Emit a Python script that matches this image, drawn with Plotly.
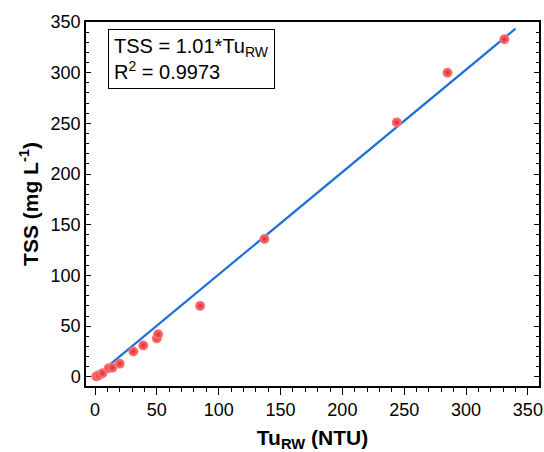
import plotly.graph_objects as go

# Data
tu_rw = [1, 3, 6, 11, 14, 20, 31, 39, 50, 51, 85, 137, 244, 285, 331]
tss = [0.5, 1.5, 3.5, 8.5, 9, 13, 25, 31, 38, 42, 70, 136, 251, 300, 333]
slope = 1.01
fit_x = [0, 340]
fit_y = [slope * v for v in fit_x]

FONT = "Liberation Sans, Arial, sans-serif"

fig = go.Figure()
fig.add_trace(go.Scatter(
    x=fit_x, y=fit_y, mode="lines",
    line=dict(color="#1f6fd8", width=2.2),
    showlegend=False, hoverinfo="skip"))
fig.add_trace(go.Scatter(
    x=tu_rw, y=tss, mode="markers",
    marker=dict(size=10, color="#f88080",
                gradient=dict(type="radial", color="#e3262b"),
                line=dict(width=0)),
    showlegend=False))

fig.add_annotation(
    xref="paper", yref="paper", x=0.048, y=0.981, xanchor="left", yanchor="top",
    text="TSS = 1.01*Tu<sub>RW</sub><br>R<sup>2</sup> = 0.9973",
    showarrow=False, align="left",
    font=dict(family=FONT, size=20, color="black"),
    bordercolor="black", borderwidth=1, borderpad=5, bgcolor="white")

fig.update_layout(
    width=544, height=452,
    margin=dict(l=86, r=5, t=22, b=66, autoexpand=False),
    paper_bgcolor="white", plot_bgcolor="white",
    font=dict(family=FONT, size=18, color="black"),
)
fig.update_xaxes(
    range=[-7.3, 359], tickmode="linear", tick0=0, dtick=50,
    ticks="outside", ticklen=7, tickwidth=1.2, tickcolor="black",
    minor=dict(ticks="outside", ticklen=4, dtick=10, tick0=0, tickcolor="black", tickwidth=1),
    showline=True, linecolor="black", linewidth=1.5, mirror=True,
    showgrid=False, zeroline=False, automargin=False,
    tickfont=dict(size=18, family=FONT),
    title=dict(text="<b>Tu<sub>RW</sub> (NTU)</b>", font=dict(size=21, family=FONT), standoff=15),
)
fig.update_yaxes(
    range=[-9, 350], tickmode="linear", tick0=0, dtick=50,
    ticks="inside", ticklen=5, tickwidth=1.2, tickcolor="black",
    minor=dict(ticks="inside", ticklen=3, dtick=10, tick0=0, tickcolor="black", tickwidth=1),
    showline=True, linecolor="black", linewidth=1.5, mirror="ticks",
    showgrid=False, zeroline=False, automargin=False,
    tickfont=dict(size=18, family=FONT),
    title=dict(text="<b>TSS (mg L<sup>-1</sup>)</b>", font=dict(size=21, family=FONT), standoff=6),
)

fig.write_html("out.html")
